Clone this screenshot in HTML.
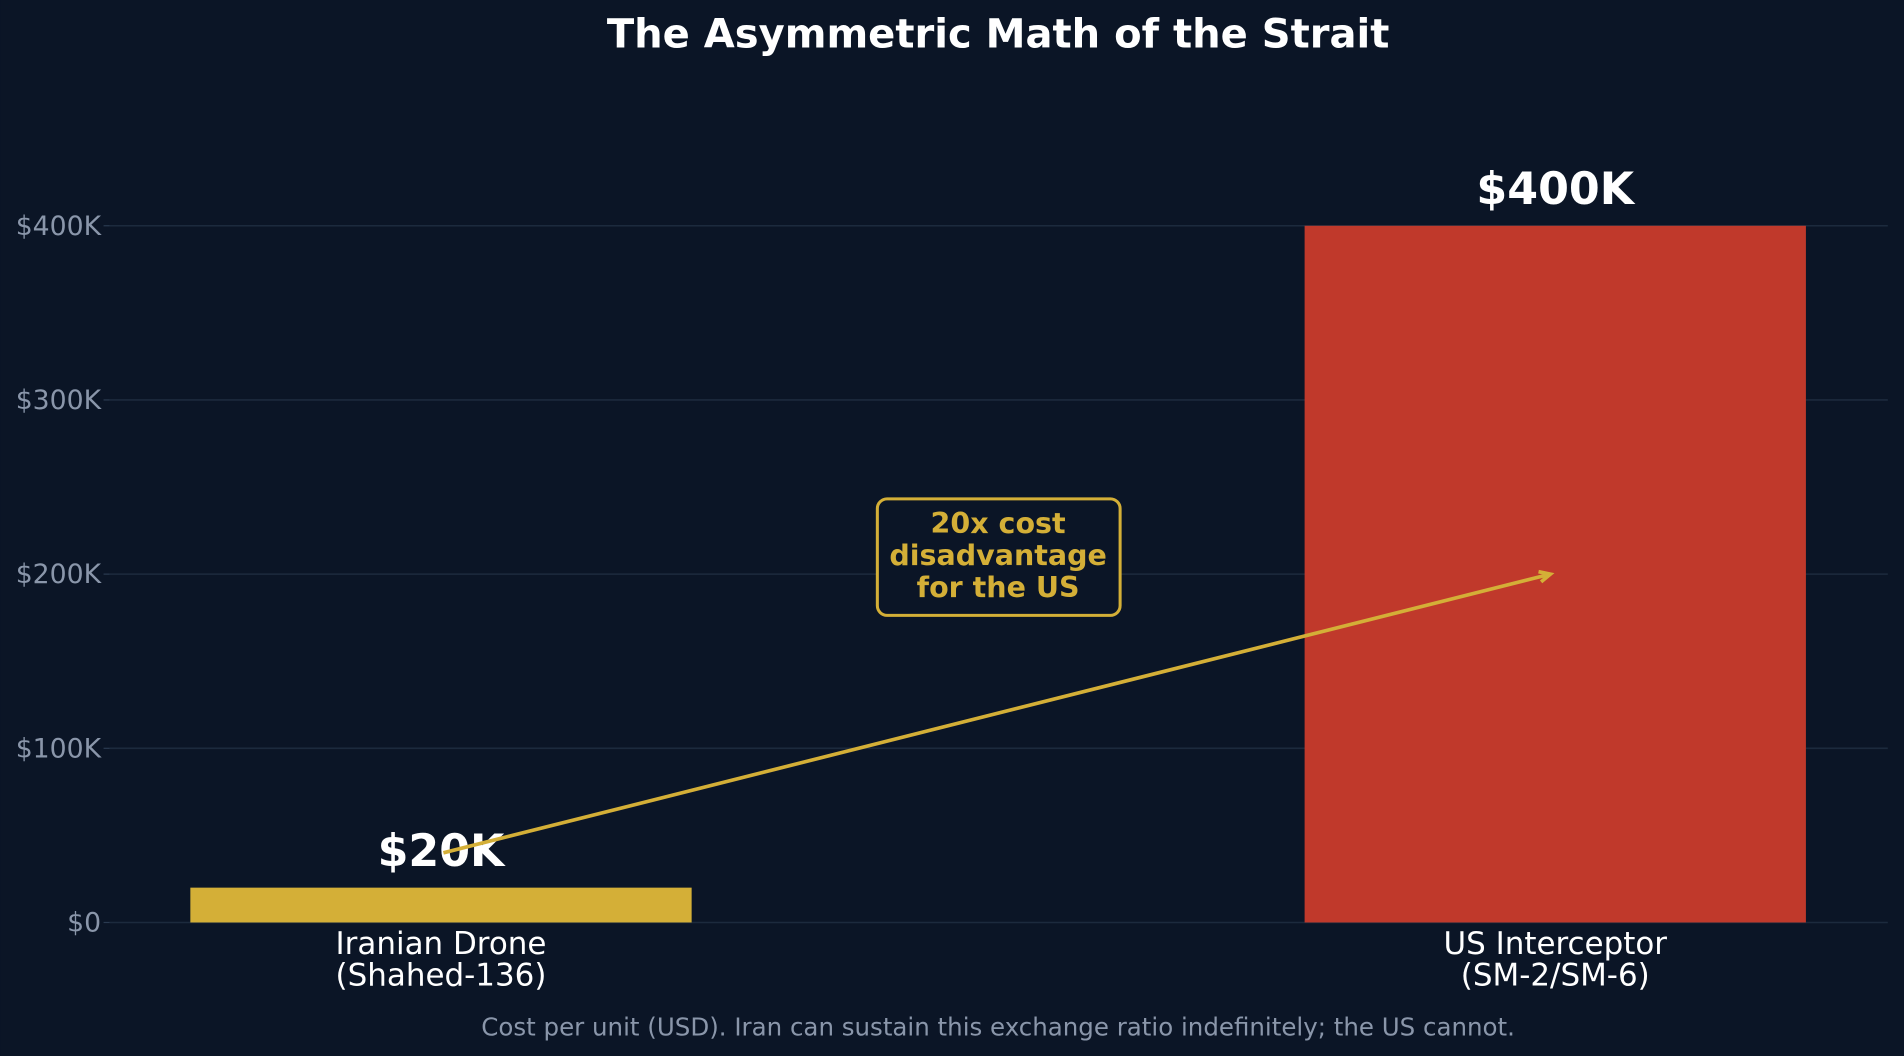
<!DOCTYPE html>
<html><head><meta charset="utf-8"><style>
html,body{margin:0;padding:0;background:#0b1526;}
svg{display:block;font-family:"DejaVu Sans","Liberation Sans",sans-serif;}
</style></head><body>
<svg id="chart" width="1904" height="1056" viewBox="0 0 1568 870" xmlns="http://www.w3.org/2000/svg">
<rect width="1568" height="870" fill="#0b1526"/>
<text x="822" y="39" text-anchor="middle" fill="#ffffff" font-size="33" font-weight="bold">The Asymmetric Math of the Strait</text>
<g id="grid"></g><g id="bars"></g><g id="labels"></g>
<text x="822" y="853" text-anchor="middle" fill="#8a96aa" font-size="20.2">Cost per unit (USD). Iran can sustain this exchange ratio indefinitely; the US cannot.</text>
</svg>
<script>
const categories = ["Iranian Drone|(Shahed-136)", "US Interceptor|(SM-2/SM-6)"];
const values = [20000, 400000];
const valueLabels = ["$20K", "$400K"];
const tickValues = [0, 100000, 200000, 300000, 400000];
const tickLabels = ["$0", "$100K", "$200K", "$300K", "$400K"];
const barColors = ["#d4af37", "#c0392b"];
const arrowFrom = [0, 40000];
const arrowTo = [1, 200000];

const NS = "http://www.w3.org/2000/svg";
const y = v => 760 - v * (574 / 400000);
const x = i => 363 + i * 918;
const bw = 413;
function mk(tag, attrs, parent, txt) {
  const e = document.createElementNS(NS, tag);
  for (const k in attrs) e.setAttribute(k, attrs[k]);
  if (txt !== undefined) e.textContent = txt;
  parent.appendChild(e); return e;
}
const grid = document.getElementById("grid");
tickValues.forEach((t, i) => {
  const l = mk("line", {x1: 90, x2: 1555, y1: y(t), y2: y(t), stroke: "#1c2a3d", "stroke-width": 1.3}, grid);
  
  
  const tk = mk("line", {x1: 85, x2: 90, y1: y(t), y2: y(t), stroke: "#2a3a50", "stroke-width": 1}, grid);
  
  
  const tx = mk("text", {x: 83, y: y(t) + 7.5, "text-anchor": "end", fill: "#8a96aa", "font-size": 22}, grid, tickLabels[i]);
  
  
});
const bars = document.getElementById("bars");
const labels = document.getElementById("labels");
values.forEach((v, i) => {
  const r = mk("rect", {x: x(i) - bw / 2, y: y(v), width: bw, height: y(0) - y(v), fill: barColors[i]}, bars);
  
  
  const vl = mk("text", {x: x(i), y: y(v) - 18, "text-anchor": "middle", fill: "#ffffff", "font-size": 36.5, "font-weight": "bold"}, labels, valueLabels[i]);
  
  
  const parts = categories[i].split("|");
  parts.forEach((p, j) => {
    const c = mk("text", {x: x(i), y: 786 + j * 26, "text-anchor": "middle", fill: "#ffffff", "font-size": 25.5}, labels, p);
    
    
  });
});
// arrow
const ax1 = x(arrowFrom[0]) + 2, ay1 = y(arrowFrom[1]), ax2 = x(arrowTo[0]) - 4, ay2 = y(arrowTo[1]);
const ln = mk("line", {x1: ax1, y1: ay1, x2: ax2, y2: ay2, stroke: "#d4af37", "stroke-width": 3}, labels);


const ang = Math.atan2(ay2 - ay1, ax2 - ax1);
const hp = [[ax2, ay2], [ax2 - 10 * Math.cos(ang - 0.45), ay2 - 10 * Math.sin(ang - 0.45)], [ax2 - 10 * Math.cos(ang + 0.45), ay2 - 10 * Math.sin(ang + 0.45)]];
const hd = mk("polyline", {points: hp[1].join(",") + " " + hp[0].join(",") + " " + hp[2].join(","), fill: "none", stroke: "#d4af37", "stroke-width": 3}, labels);


// annotation box
const box = mk("rect", {x: 722.5, y: 411, width: 200, height: 96, rx: 8, fill: "#0b1526", stroke: "#d4af37", "stroke-width": 2.5}, labels);


["20x cost", "disadvantage", "for the US"].forEach((t, j) => {
  const at = mk("text", {x: 822, y: 439 + j * 26.5, "text-anchor": "middle", fill: "#d4af37", "font-size": 23.5, "font-weight": "bold"}, labels, t);
  
  
});
</script>
</body></html>
